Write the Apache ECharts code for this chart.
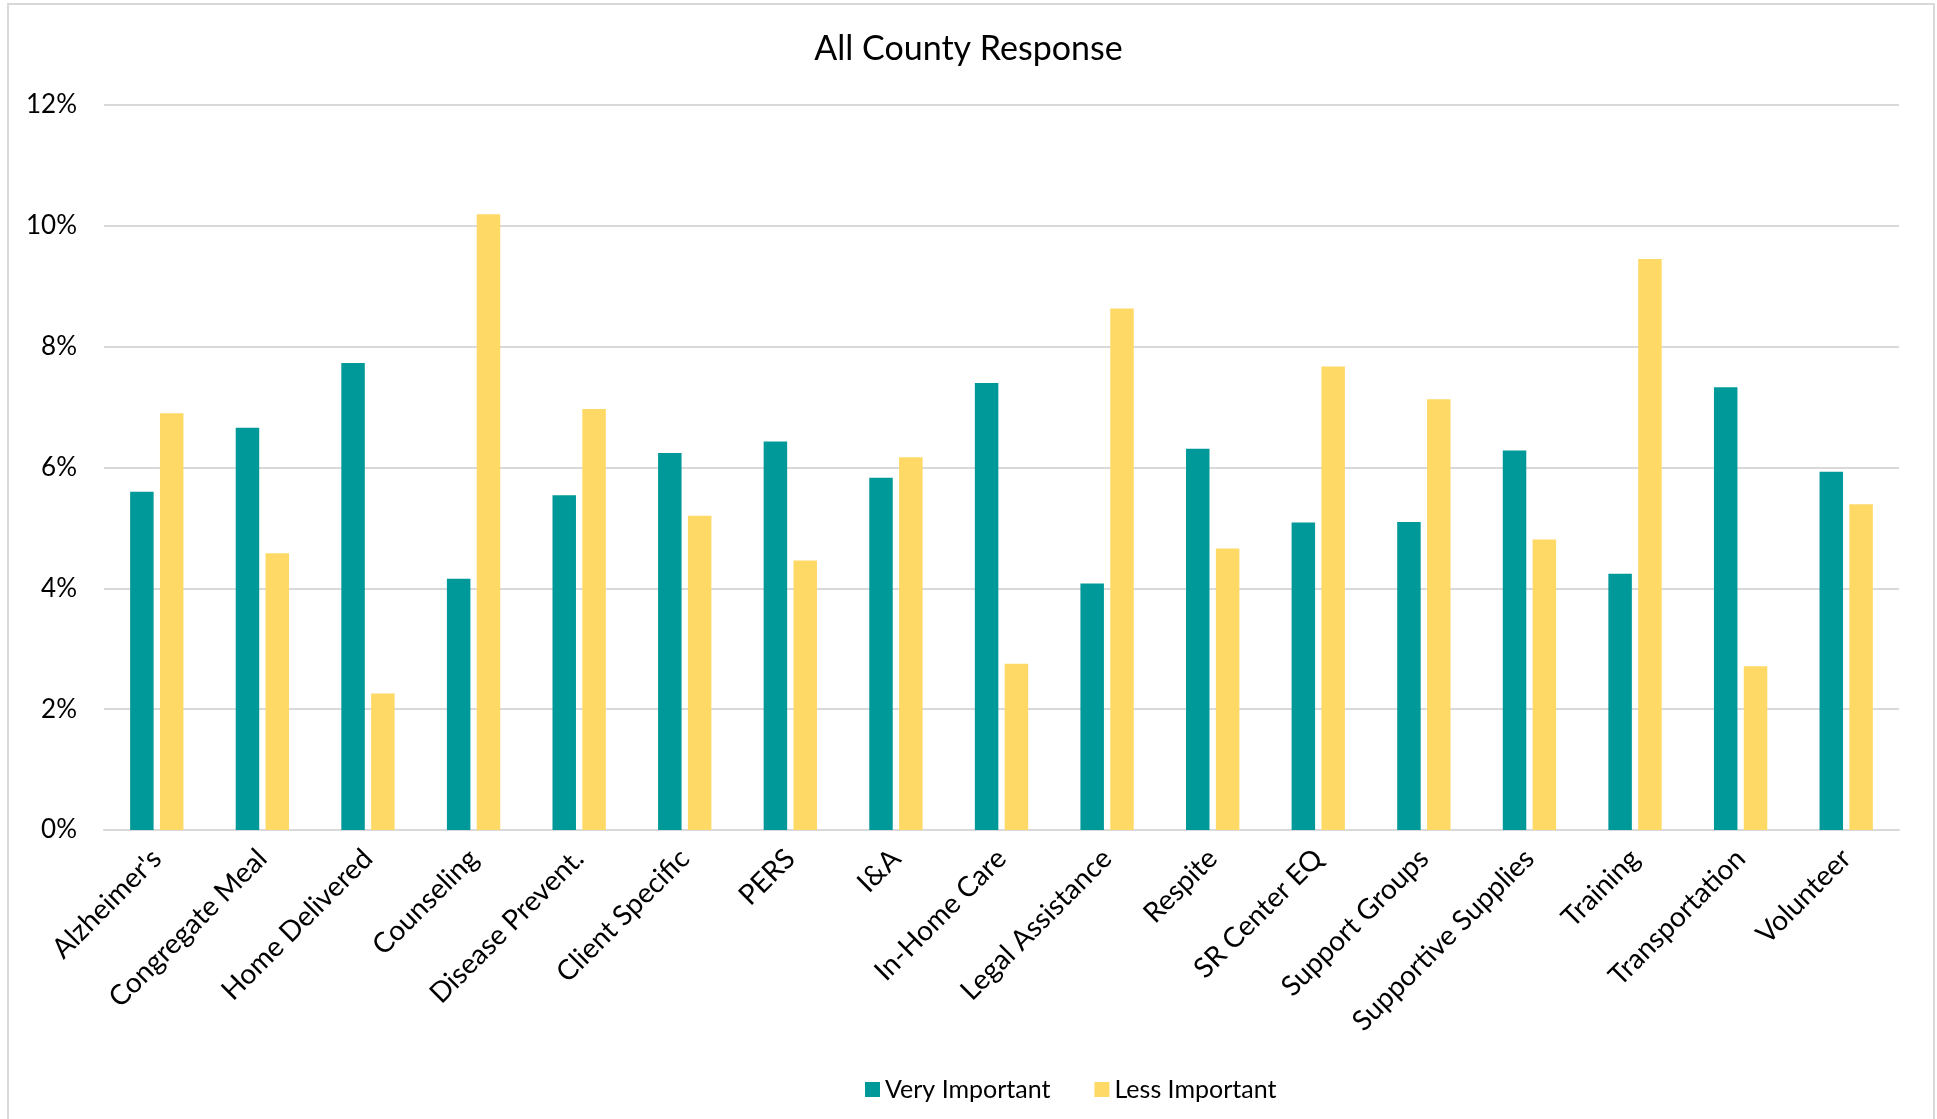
<!DOCTYPE html>
<html>
<head>
<meta charset="utf-8">
<title>All County Response</title>
<script src="https://cdn.jsdelivr.net/npm/echarts@6/dist/echarts.min.js"></script>
<style>
  html, body { margin: 0; padding: 0; background: #fff; }
  #chart { width: 1937px; height: 1119px; }
</style>
</head>
<body>
<div id="chart"></div>
<script>
// Service categories along the x axis
const categories = [
  "Alzheimer's", "Congregate Meal", "Home Delivered", "Counseling",
  "Disease Prevent.", "Client Specific", "PERS", "I&A", "In-Home Care",
  "Legal Assistance", "Respite", "SR Center EQ", "Support Groups",
  "Supportive Supplies", "Training", "Transportation", "Volunteer"
];

// Share of responses (percent) per category
const veryImportant = [
  5.60, 6.66, 7.73, 4.16, 5.54, 6.24, 6.43, 5.83, 7.40,
  4.08, 6.31, 5.09, 5.10, 6.28, 4.24, 7.33, 5.93
];
const lessImportant = [
  6.90, 4.58, 2.26, 10.19, 6.97, 5.20, 4.46, 6.17, 2.75,
  8.63, 4.66, 7.67, 7.13, 4.81, 9.45, 2.71, 5.39
];

// Value axis ticks (percent)
const yTicks = [0, 2, 4, 6, 8, 10, 12];

const FONT = "Lato, 'Open Sans', sans-serif";
const chart = echarts.init(document.getElementById('chart'), null, { renderer: 'canvas' });

chart.setOption({
  backgroundColor: '#ffffff',
  animation: false,
  title: {
    text: 'All County Response',
    left: 'center',
    top: 27,
    textStyle: { fontFamily: FONT, fontSize: 34, fontWeight: 'normal', color: '#000' }
  },
  graphic: [{
    type: 'rect',
    shape: { x: 8, y: 4, width: 1926, height: 1130 },
    style: { fill: 'none', stroke: '#d9d9d9', lineWidth: 2 },
    silent: true
  }],
  legend: {
    bottom: 12,
    left: 860,
    itemWidth: 15,
    itemHeight: 15,
    itemGap: 44,
    icon: 'rect',
    textStyle: { fontFamily: FONT, fontSize: 25, color: '#000' },
    data: ['Very Important', 'Less Important']
  },
  grid: { left: 104, right: 38, top: 105, bottom: 289, containLabel: false },
  xAxis: {
    type: 'category',
    data: categories,
    axisTick: { show: false },
    axisLine: { lineStyle: { color: '#d9d9d9', width: 2 } },
    axisLabel: {
      interval: 0,
      rotate: 45,
      margin: 24,
      fontFamily: FONT,
      fontSize: 28,
      color: '#000'
    }
  },
  yAxis: {
    type: 'value',
    min: yTicks[0],
    max: yTicks[yTicks.length - 1],
    interval: yTicks[1] - yTicks[0],
    axisLine: { show: false },
    axisTick: { show: false },
    splitLine: { lineStyle: { color: '#d9d9d9', width: 2 } },
    axisLabel: {
      margin: 27,
      fontFamily: FONT,
      fontSize: 26,
      color: '#000',
      formatter: v => v + '%'
    }
  },
  series: [
    {
      name: 'Very Important',
      type: 'bar',
      data: veryImportant,
      barGap: '27%',
      barCategoryGap: '49.5%',
      itemStyle: { color: '#009999' }
    },
    {
      name: 'Less Important',
      type: 'bar',
      data: lessImportant,
      barGap: '27%',
      barCategoryGap: '49.5%',
      itemStyle: { color: '#ffd966' }
    }
  ]
});
</script>
</body>
</html>
